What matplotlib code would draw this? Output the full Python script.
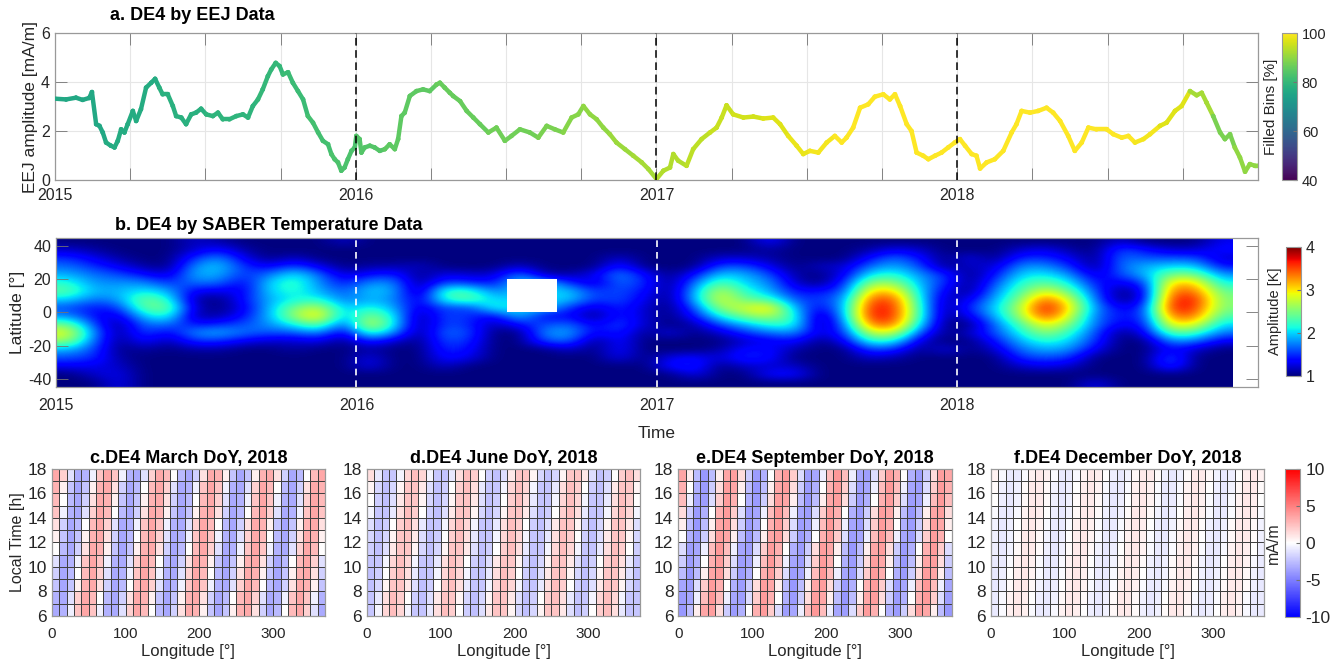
"""DE4 tide: EEJ amplitude time series, SABER temperature amplitude map and
seasonal longitude / local-time maps for 2018."""
import numpy as np
import matplotlib
matplotlib.use("Agg")
import matplotlib.pyplot as plt
from matplotlib.collections import LineCollection
from matplotlib.colors import LinearSegmentedColormap, ListedColormap, Normalize
from matplotlib.cm import ScalarMappable

plt.rcParams['font.family'] = ['Liberation Sans', 'DejaVu Sans']
plt.rcParams['axes.unicode_minus'] = False
TXT = '#262626'
plt.rcParams['text.color'] = TXT
plt.rcParams['axes.labelcolor'] = TXT
plt.rcParams['xtick.color'] = TXT
plt.rcParams['ytick.color'] = TXT
nan = float('nan')

# ── panel a: EEJ DE4 amplitude (decimal year, mA/m) ──────────────────────────
eej_time = [2015.000, 2015.037, 2015.070, 2015.092, 2015.114, 2015.123, 2015.137, 2015.148, 2015.159, 2015.170,
            2015.186, 2015.198, 2015.209, 2015.220, 2015.231, 2015.242, 2015.259, 2015.270, 2015.286, 2015.303,
            2015.320, 2015.333, 2015.347, 2015.358, 2015.375, 2015.392, 2015.403, 2015.420, 2015.436, 2015.453,
            2015.469, 2015.486, 2015.503, 2015.525, 2015.542, 2015.558, 2015.580, 2015.603, 2015.625, 2015.642,
            2015.658, 2015.675, 2015.691, 2015.708, 2015.719, 2015.734, 2015.747, 2015.758, 2015.775, 2015.791,
            2015.808, 2015.825, 2015.841, 2015.858, 2015.875, 2015.891, 2015.908, 2015.919, 2015.930, 2015.941,
            2015.952, 2015.963, 2015.974, 2015.986, 2015.997, 2016.002, 2016.013, 2016.019, 2016.030, 2016.047,
            2016.063, 2016.080, 2016.097, 2016.113, 2016.130, 2016.141, 2016.152, 2016.163, 2016.180, 2016.202,
            2016.224, 2016.246, 2016.269, 2016.280, 2016.296, 2016.313, 2016.324, 2016.347, 2016.369, 2016.391,
            2016.413, 2016.441, 2016.468, 2016.496, 2016.518, 2016.546, 2016.579, 2016.607, 2016.635, 2016.662,
            2016.690, 2016.718, 2016.740, 2016.757, 2016.779, 2016.801, 2016.823, 2016.845, 2016.867, 2016.895,
            2016.923, 2016.951, 2016.973, 2017.000, 2017.023, 2017.045, 2017.056, 2017.072, 2017.100, 2017.122,
            2017.150, 2017.178, 2017.200, 2017.217, 2017.233, 2017.255, 2017.289, 2017.322, 2017.355, 2017.388,
            2017.411, 2017.438, 2017.466, 2017.488, 2017.510, 2017.538, 2017.566, 2017.593, 2017.616, 2017.632,
            2017.654, 2017.677, 2017.704, 2017.726, 2017.754, 2017.776, 2017.793, 2017.810, 2017.832, 2017.848,
            2017.865, 2017.887, 2017.904, 2017.926, 2017.948, 2017.970, 2017.992, 2018.009, 2018.026, 2018.048,
            2018.064, 2018.076, 2018.098, 2018.125, 2018.153, 2018.181, 2018.197, 2018.214, 2018.242, 2018.269,
            2018.297, 2018.319, 2018.342, 2018.369, 2018.391, 2018.414, 2018.436, 2018.463, 2018.497, 2018.519,
            2018.547, 2018.569, 2018.591, 2018.619, 2018.641, 2018.674, 2018.696, 2018.724, 2018.746, 2018.774,
            2018.796, 2018.813, 2018.829, 2018.851, 2018.874, 2018.890, 2018.907, 2018.923, 2018.940, 2018.957,
            2018.973, 2018.990, 2018.998]
eej_amp = [3.32, 3.29, 3.36, 3.27, 3.35, 3.59, 2.28, 2.21, 1.94, 1.53,
           1.40, 1.33, 1.60, 2.07, 1.94, 2.28, 2.82, 2.41, 2.89, 3.77,
           3.97, 4.13, 3.77, 3.50, 3.50, 3.02, 2.61, 2.55, 2.28, 2.68,
           2.75, 2.91, 2.68, 2.61, 2.75, 2.48, 2.48, 2.61, 2.68, 2.55,
           3.02, 3.29, 3.70, 4.24, 4.51, 4.78, 4.65, 4.31, 4.40, 3.97,
           3.63, 3.29, 2.61, 2.34, 1.94, 1.60, 1.46, 1.06, 0.85, 0.72,
           0.38, 0.51, 0.85, 1.19, 1.33, 1.80, 1.67, 1.12, 1.33, 1.40,
           1.33, 1.19, 1.26, 1.46, 1.26, 1.67, 2.61, 2.75, 3.43, 3.63,
           3.70, 3.63, 3.90, 3.97, 3.77, 3.56, 3.43, 3.22, 2.82, 2.55,
           2.28, 1.94, 2.14, 1.60, 1.80, 2.07, 1.94, 1.73, 2.21, 2.07,
           1.94, 2.55, 2.68, 3.02, 2.68, 2.48, 2.14, 1.87, 1.53, 1.26,
           0.99, 0.72, 0.45, 0.04, 0.38, 0.51, 1.06, 0.79, 0.58, 1.26,
           1.67, 1.94, 2.14, 2.55, 3.05, 2.68, 2.55, 2.59, 2.51, 2.55,
           2.28, 1.80, 1.40, 1.06, 1.19, 1.12, 1.53, 1.80, 1.53, 1.73,
           2.14, 2.95, 3.09, 3.40, 3.50, 3.29, 3.50, 3.02, 2.28, 2.00,
           1.12, 0.99, 0.85, 0.99, 1.12, 1.33, 1.53, 1.67, 1.40, 1.06,
           0.99, 0.47, 0.72, 0.85, 1.19, 1.94, 2.28, 2.82, 2.75, 2.82,
           2.95, 2.75, 2.41, 1.80, 1.19, 1.53, 2.14, 2.07, 2.07, 1.87,
           1.73, 1.80, 1.53, 1.67, 1.87, 2.21, 2.34, 2.82, 3.02, 3.63,
           3.46, 3.56, 3.16, 2.61, 1.94, 1.67, 1.87, 1.33, 0.92, 0.34,
           0.65, 0.58, 0.58]
# filled bins [%] per month, Jan 2015 .. Dec 2018
filled_bins = [76, 76, 77, 77, 78, 78, 79, 79, 80, 81, 82, 83,
               84, 85, 85, 86, 86, 87, 87, 88, 89, 90, 91, 92,
               93, 94, 95, 96, 97, 98, 99, 100, 100, 100, 100, 100,
               100, 100, 100, 100, 100, 100, 100, 99, 97, 92, 88, 90]
year_marks = [2016, 2017, 2018]
year_labels = ['2015', '2016', '2017', '2018']

# ── panel b: SABER DE4 amplitude [K], one list per month (Jan 2015 .. Nov 2018),
#    latitude bins 42.5N .. 42.5S in 5 deg steps (nan = no data) ─────────────
saber_lat_edges = [45, -45]
saber_months = [
    [1.0, 1.2, 1.5, 1.7, 1.9, 2.2, 2.4, 2.0, 1.6, 1.8, 2.5, 2.9, 2.6, 1.9, 1.6, 1.3, 1.0, 1.0],
    [1.0, 1.1, 1.3, 1.5, 1.7, 1.8, 1.9, 1.7, 1.4, 1.4, 1.6, 1.8, 1.7, 1.6, 1.5, 1.3, 1.2, 1.0],
    [1.0, 1.0, 1.1, 1.3, 1.6, 1.8, 1.9, 1.8, 1.5, 1.2, 1.0, 1.0, 1.0, 1.0, 1.1, 1.2, 1.3, 1.3],
    [1.0, 1.0, 1.0, 1.1, 1.4, 1.8, 2.1, 2.5, 2.4, 2.0, 1.7, 1.6, 1.4, 1.1, 1.0, 1.0, 1.0, 1.0],
    [1.0, 1.0, 1.0, 1.0, 1.2, 1.5, 1.9, 2.2, 2.5, 2.2, 1.7, 1.3, 1.1, 1.0, 1.0, 1.0, 1.0, 1.0],
    [1.2, 1.2, 1.5, 1.8, 1.9, 1.7, 1.3, 1.1, 1.2, 1.1, 1.4, 1.8, 1.5, 1.1, 1.0, 1.0, 1.0, 1.0],
    [1.1, 1.4, 1.8, 2.0, 1.9, 1.7, 1.3, 1.0, 1.0, 1.1, 1.5, 1.9, 1.5, 1.1, 1.0, 1.0, 1.0, 1.0],
    [1.0, 1.1, 1.3, 1.5, 1.5, 1.3, 1.3, 1.4, 1.3, 1.4, 1.6, 1.7, 1.3, 1.0, 1.0, 1.0, 1.0, 1.0],
    [1.0, 1.0, 1.0, 1.3, 1.7, 2.0, 2.0, 1.9, 1.9, 1.9, 1.8, 1.6, 1.2, 1.0, 1.0, 1.0, 1.0, 1.0],
    [1.0, 1.0, 1.2, 1.6, 2.1, 2.3, 2.2, 2.1, 2.5, 2.6, 2.1, 1.6, 1.2, 1.1, 1.0, 1.0, 1.0, 1.0],
    [1.0, 1.0, 1.0, 1.3, 1.7, 1.8, 1.9, 2.2, 2.8, 3.1, 2.5, 1.8, 1.3, 1.0, 1.0, 1.0, 1.0, 1.0],
    [1.2, 1.0, 1.0, 1.0, 1.2, 1.4, 1.6, 1.7, 1.9, 1.8, 1.5, 1.2, 1.0, 1.0, 1.0, 1.0, 1.0, 1.0],
    [1.0, 1.0, 1.0, 1.1, 1.4, 1.8, 2.0, 1.9, 2.2, 2.6, 2.9, 2.3, 1.5, 1.1, 1.3, 1.3, 1.0, 1.0],
    [1.0, 1.0, 1.0, 1.1, 1.5, 1.8, 1.9, 1.8, 1.9, 2.1, 2.1, 1.8, 1.2, 1.0, 1.0, 1.0, 1.0, 1.0],
    [1.0, 1.0, 1.0, 1.2, 1.0, 1.0, 1.0, 1.2, 1.2, 1.0, 1.0, 1.0, 1.0, 1.0, 1.0, 1.0, 1.0, 1.0],
    [1.0, 1.0, 1.0, 1.0, 1.3, 1.6, 2.3, 2.2, 1.6, 1.6, 1.6, 1.7, 1.6, 1.5, 1.4, 1.2, 1.0, 1.0],
    [1.0, 1.0, 1.0, 1.0, 1.2, 1.5, 2.3, 2.4, 1.5, 1.5, 1.5, 1.6, 1.5, 1.4, 1.3, 1.0, 1.0, 1.0],
    [1.0, 1.0, 1.0, 1.0, 1.2, 1.4, 1.7, 2.0, 2.2, 1.3, 1.1, 1.0, 1.0, 1.0, 1.0, 1.0, 1.0, 1.0],
    [1.0, 1.0, 1.0, 1.2, 1.8, nan, nan, nan, nan, 2.0, 1.4, 1.0, 1.0, 1.0, 1.0, 1.0, 1.0, 1.0],
    [1.0, 1.0, 1.0, 1.0, 1.1, nan, nan, nan, nan, 1.3, 1.6, 1.8, 1.6, 1.0, 1.0, 1.0, 1.0, 1.0],
    [1.0, 1.0, 1.0, 1.0, 1.1, 1.5, 2.0, 2.0, 1.5, 1.4, 1.7, 1.9, 1.7, 1.2, 1.0, 1.0, 1.0, 1.0],
    [1.0, 1.0, 1.0, 1.0, 1.3, 1.2, 1.5, 1.5, 1.2, 1.0, 1.3, 1.3, 1.0, 1.0, 1.0, 1.0, 1.0, 1.0],
    [1.0, 1.0, 1.2, 1.5, 1.8, 1.7, 1.6, 1.6, 1.5, 1.5, 1.6, 1.5, 1.4, 1.4, 1.3, 1.0, 1.0, 1.0],
    [1.0, 1.0, 1.0, 1.0, 1.4, 1.5, 1.4, 1.3, 1.2, 1.2, 1.2, 1.0, 1.0, 1.0, 1.0, 1.0, 1.0, 1.0],
    [1.0, 1.0, 1.0, 1.0, 1.0, 1.0, 1.0, 1.0, 1.0, 1.0, 1.0, 1.3, 1.0, 1.0, 1.3, 1.4, 1.0, 1.0],
    [1.0, 1.0, 1.0, 1.0, 1.4, 1.7, 1.9, 1.9, 1.6, 1.4, 1.1, 1.0, 1.0, 1.0, 1.4, 1.5, 1.3, 1.0],
    [1.0, 1.0, 1.2, 1.6, 2.0, 2.4, 2.8, 2.9, 2.6, 2.1, 1.6, 1.2, 1.0, 1.1, 1.2, 1.0, 1.0, 1.0],
    [1.0, 1.0, 1.2, 1.6, 1.9, 2.0, 2.2, 2.4, 2.8, 2.5, 1.9, 1.5, 1.2, 1.4, 1.5, 1.2, 1.0, 1.0],
    [1.4, 1.1, 1.1, 1.3, 1.6, 1.8, 1.9, 2.3, 3.1, 2.7, 2.2, 1.7, 1.3, 1.4, 1.4, 1.2, 1.4, 1.0],
    [1.0, 1.0, 1.0, 1.0, 1.1, 1.2, 1.4, 1.6, 1.9, 2.2, 2.2, 1.8, 1.4, 1.1, 1.0, 1.2, 1.4, 1.0],
    [1.0, 1.0, 1.0, 1.2, 1.0, 1.0, 1.4, 1.5, 1.3, 1.0, 1.0, 1.2, 1.0, 1.0, 1.0, 1.0, 1.0, 1.0],
    [1.0, 1.0, 1.0, 1.2, 1.3, 1.5, 1.6, 1.8, 1.9, 1.9, 1.7, 1.5, 1.3, 1.0, 1.0, 1.0, 1.0, 1.0],
    [1.0, 1.1, 1.4, 1.7, 2.1, 2.6, 3.1, 3.5, 3.7, 3.7, 3.4, 2.8, 2.2, 1.6, 1.2, 1.0, 1.0, 1.0],
    [1.0, 1.3, 1.7, 1.9, 2.2, 2.6, 3.1, 3.5, 3.6, 3.6, 3.4, 2.8, 2.1, 1.5, 1.1, 1.0, 1.0, 1.0],
    [1.0, 1.2, 1.4, 1.6, 1.8, 1.9, 2.0, 2.1, 2.2, 2.2, 2.0, 1.6, 1.2, 1.0, 1.0, 1.0, 1.0, 1.0],
    [1.0, 1.0, 1.0, 1.0, 1.5, 1.5, 1.3, 1.1, 1.0, 1.0, 1.0, 1.0, 1.0, 1.3, 1.0, 1.0, 1.0, 1.0],
    [1.0, 1.0, 1.3, 1.2, 1.0, 1.0, 1.0, 1.3, 1.5, 1.3, 1.0, 1.2, 1.0, 1.0, 1.0, 1.0, 1.0, 1.0],
    [1.0, 1.0, 1.0, 1.2, 1.4, 1.6, 1.8, 1.9, 2.0, 1.9, 1.7, 1.6, 1.4, 1.2, 1.0, 1.0, 1.0, 1.0],
    [1.0, 1.2, 1.5, 1.8, 2.0, 2.2, 2.3, 2.5, 2.7, 2.6, 2.3, 2.1, 1.9, 1.7, 1.5, 1.2, 1.0, 1.0],
    [1.0, 1.3, 1.5, 1.8, 2.1, 2.4, 2.9, 3.5, 3.8, 3.6, 3.0, 2.6, 2.2, 1.9, 1.6, 1.3, 1.0, 1.0],
    [1.0, 1.1, 1.3, 1.5, 1.8, 2.1, 2.4, 2.8, 3.0, 2.8, 2.5, 2.2, 2.0, 1.8, 1.5, 1.2, 1.0, 1.0],
    [1.0, 1.0, 1.0, 1.0, 1.2, 1.4, 1.6, 1.7, 1.8, 1.7, 1.7, 1.6, 1.5, 1.3, 1.0, 1.0, 1.0, 1.3],
    [1.2, 1.6, 1.7, 1.7, 1.6, 1.3, 1.0, 1.0, 1.3, 1.4, 1.3, 1.0, 1.0, 1.0, 1.0, 1.0, 1.0, 1.0],
    [1.0, 1.4, 1.6, 1.9, 1.9, 1.5, 1.3, 1.3, 1.5, 1.5, 1.4, 1.3, 1.0, 1.0, 1.0, 1.0, 1.0, 1.0],
    [1.0, 1.2, 1.6, 2.0, 2.5, 3.1, 3.4, 3.6, 3.7, 3.4, 3.0, 2.4, 1.8, 1.4, 1.7, 1.6, 1.0, 1.0],
    [1.0, 1.2, 1.6, 2.0, 2.5, 3.1, 3.4, 3.7, 3.6, 3.4, 2.9, 2.3, 1.7, 1.2, 1.0, 1.0, 1.0, 1.0],
    [1.3, 1.4, 1.2, 1.4, 1.8, 2.1, 2.4, 2.5, 2.5, 2.3, 2.0, 1.7, 1.3, 1.0, 1.0, 1.0, 1.0, 1.0],
]

# ── panels c-f: DE4 EEJ [mA/m] on 10 deg longitude x 1 h local-time cells ────
lon_edges = list(range(0, 371, 10))
lt_edges = list(range(6, 19))
de4_march = [
    [-3.3, -3.0, -0.6, 2.3, 3.5, 2.3, -0.6, -3.0, -3.3, -1.2, 1.8, 3.4, 2.7, 0, -2.7, -3.4, -1.8, 1.2, 3.3, 3.0, 0.6, -2.3, -3.5, -2.3, 0.6, 3.0, 3.3, 1.2, -1.8, -3.4, -2.7, 0, 2.7, 3.4, 1.8, -1.2, -3.3],
    [-3.0, -3.3, -1.2, 1.8, 3.4, 2.7, 0, -2.7, -3.4, -1.8, 1.2, 3.3, 3.0, 0.6, -2.3, -3.5, -2.3, 0.6, 3.0, 3.3, 1.2, -1.8, -3.4, -2.7, 0, 2.7, 3.4, 1.8, -1.2, -3.3, -3.0, -0.6, 2.3, 3.5, 2.3, -0.6, -3.0],
    [-2.3, -3.5, -2.3, 0.6, 3.0, 3.3, 1.2, -1.8, -3.4, -2.7, 0, 2.7, 3.4, 1.8, -1.2, -3.3, -3.0, -0.6, 2.3, 3.5, 2.3, -0.6, -3.0, -3.3, -1.2, 1.8, 3.4, 2.7, 0, -2.7, -3.4, -1.8, 1.2, 3.3, 3.0, 0.6, -2.3],
    [-1.8, -3.4, -2.7, 0, 2.7, 3.4, 1.8, -1.2, -3.3, -3.0, -0.6, 2.3, 3.5, 2.3, -0.6, -3.0, -3.3, -1.2, 1.8, 3.4, 2.7, 0, -2.7, -3.4, -1.8, 1.2, 3.3, 3.0, 0.6, -2.3, -3.5, -2.3, 0.6, 3.0, 3.3, 1.2, -1.8],
    [-1.2, -3.3, -3.0, -0.6, 2.3, 3.5, 2.3, -0.6, -3.0, -3.3, -1.2, 1.8, 3.4, 2.7, 0, -2.7, -3.4, -1.8, 1.2, 3.3, 3.0, 0.6, -2.3, -3.5, -2.3, 0.6, 3.0, 3.3, 1.2, -1.8, -3.4, -2.7, 0, 2.7, 3.4, 1.8, -1.2],
    [0, -2.7, -3.4, -1.8, 1.2, 3.3, 3.0, 0.6, -2.3, -3.5, -2.3, 0.6, 3.0, 3.3, 1.2, -1.8, -3.4, -2.7, 0, 2.7, 3.4, 1.8, -1.2, -3.3, -3.0, -0.6, 2.3, 3.5, 2.3, -0.6, -3.0, -3.3, -1.2, 1.8, 3.4, 2.7, 0],
    [0.6, -2.3, -3.5, -2.3, 0.6, 3.0, 3.3, 1.2, -1.8, -3.4, -2.7, 0, 2.7, 3.4, 1.8, -1.2, -3.3, -3.0, -0.6, 2.3, 3.5, 2.3, -0.6, -3.0, -3.3, -1.2, 1.8, 3.4, 2.7, 0, -2.7, -3.4, -1.8, 1.2, 3.3, 3.0, 0.6],
    [1.2, -1.8, -3.4, -2.7, 0, 2.7, 3.4, 1.8, -1.2, -3.3, -3.0, -0.6, 2.3, 3.5, 2.3, -0.6, -3.0, -3.3, -1.2, 1.8, 3.4, 2.7, 0, -2.7, -3.4, -1.8, 1.2, 3.3, 3.0, 0.6, -2.3, -3.5, -2.3, 0.6, 3.0, 3.3, 1.2],
    [2.3, -0.6, -3.0, -3.3, -1.2, 1.8, 3.4, 2.7, 0, -2.7, -3.4, -1.8, 1.2, 3.3, 3.0, 0.6, -2.3, -3.5, -2.3, 0.6, 3.0, 3.3, 1.2, -1.8, -3.4, -2.7, 0, 2.7, 3.4, 1.8, -1.2, -3.3, -3.0, -0.6, 2.3, 3.5, 2.3],
    [2.7, 0, -2.7, -3.4, -1.8, 1.2, 3.3, 3.0, 0.6, -2.3, -3.5, -2.3, 0.6, 3.0, 3.3, 1.2, -1.8, -3.4, -2.7, 0, 2.7, 3.4, 1.8, -1.2, -3.3, -3.0, -0.6, 2.3, 3.5, 2.3, -0.6, -3.0, -3.3, -1.2, 1.8, 3.4, 2.7],
    [3.0, 0.6, -2.3, -3.5, -2.3, 0.6, 3.0, 3.3, 1.2, -1.8, -3.4, -2.7, 0, 2.7, 3.4, 1.8, -1.2, -3.3, -3.0, -0.6, 2.3, 3.5, 2.3, -0.6, -3.0, -3.3, -1.2, 1.8, 3.4, 2.7, 0, -2.7, -3.4, -1.8, 1.2, 3.3, 3.0],
    [3.4, 1.8, -1.2, -3.3, -3.0, -0.6, 2.3, 3.5, 2.3, -0.6, -3.0, -3.3, -1.2, 1.8, 3.4, 2.7, 0, -2.7, -3.4, -1.8, 1.2, 3.3, 3.0, 0.6, -2.3, -3.5, -2.3, 0.6, 3.0, 3.3, 1.2, -1.8, -3.4, -2.7, 0, 2.7, 3.4],
]
de4_june = [
    [-2.2, -0.4, 1.6, 2.5, 1.6, -0.4, -2.2, -2.3, -0.9, 1.3, 2.5, 1.9, 0, -1.9, -2.5, -1.3, 0.9, 2.3, 2.2, 0.4, -1.6, -2.5, -1.6, 0.4, 2.2, 2.3, 0.9, -1.3, -2.5, -1.9, 0, 1.9, 2.5, 1.3, -0.9, -2.3, -2.2],
    [-2.3, -0.9, 1.3, 2.5, 1.9, 0, -1.9, -2.5, -1.3, 0.9, 2.3, 2.2, 0.4, -1.6, -2.5, -1.6, 0.4, 2.2, 2.3, 0.9, -1.3, -2.5, -1.9, 0, 1.9, 2.5, 1.3, -0.9, -2.3, -2.2, -0.4, 1.6, 2.5, 1.6, -0.4, -2.2, -2.3],
    [-2.5, -1.6, 0.4, 2.2, 2.3, 0.9, -1.3, -2.5, -1.9, 0, 1.9, 2.5, 1.3, -0.9, -2.3, -2.2, -0.4, 1.6, 2.5, 1.6, -0.4, -2.2, -2.3, -0.9, 1.3, 2.5, 1.9, 0, -1.9, -2.5, -1.3, 0.9, 2.3, 2.2, 0.4, -1.6, -2.5],
    [-2.5, -1.9, 0, 1.9, 2.5, 1.3, -0.9, -2.3, -2.2, -0.4, 1.6, 2.5, 1.6, -0.4, -2.2, -2.3, -0.9, 1.3, 2.5, 1.9, 0, -1.9, -2.5, -1.3, 0.9, 2.3, 2.2, 0.4, -1.6, -2.5, -1.6, 0.4, 2.2, 2.3, 0.9, -1.3, -2.5],
    [-2.3, -2.2, -0.4, 1.6, 2.5, 1.6, -0.4, -2.2, -2.3, -0.9, 1.3, 2.5, 1.9, 0, -1.9, -2.5, -1.3, 0.9, 2.3, 2.2, 0.4, -1.6, -2.5, -1.6, 0.4, 2.2, 2.3, 0.9, -1.3, -2.5, -1.9, 0, 1.9, 2.5, 1.3, -0.9, -2.3],
    [-1.9, -2.5, -1.3, 0.9, 2.3, 2.2, 0.4, -1.6, -2.5, -1.6, 0.4, 2.2, 2.3, 0.9, -1.3, -2.5, -1.9, 0, 1.9, 2.5, 1.3, -0.9, -2.3, -2.2, -0.4, 1.6, 2.5, 1.6, -0.4, -2.2, -2.3, -0.9, 1.3, 2.5, 1.9, 0, -1.9],
    [-1.6, -2.5, -1.6, 0.4, 2.2, 2.3, 0.9, -1.3, -2.5, -1.9, 0, 1.9, 2.5, 1.3, -0.9, -2.3, -2.2, -0.4, 1.6, 2.5, 1.6, -0.4, -2.2, -2.3, -0.9, 1.3, 2.5, 1.9, 0, -1.9, -2.5, -1.3, 0.9, 2.3, 2.2, 0.4, -1.6],
    [-1.3, -2.5, -1.9, 0, 1.9, 2.5, 1.3, -0.9, -2.3, -2.2, -0.4, 1.6, 2.5, 1.6, -0.4, -2.2, -2.3, -0.9, 1.3, 2.5, 1.9, 0, -1.9, -2.5, -1.3, 0.9, 2.3, 2.2, 0.4, -1.6, -2.5, -1.6, 0.4, 2.2, 2.3, 0.9, -1.3],
    [-0.4, -2.2, -2.3, -0.9, 1.3, 2.5, 1.9, 0, -1.9, -2.5, -1.3, 0.9, 2.3, 2.2, 0.4, -1.6, -2.5, -1.6, 0.4, 2.2, 2.3, 0.9, -1.3, -2.5, -1.9, 0, 1.9, 2.5, 1.3, -0.9, -2.3, -2.2, -0.4, 1.6, 2.5, 1.6, -0.4],
    [0, -1.9, -2.5, -1.3, 0.9, 2.3, 2.2, 0.4, -1.6, -2.5, -1.6, 0.4, 2.2, 2.3, 0.9, -1.3, -2.5, -1.9, 0, 1.9, 2.5, 1.3, -0.9, -2.3, -2.2, -0.4, 1.6, 2.5, 1.6, -0.4, -2.2, -2.3, -0.9, 1.3, 2.5, 1.9, 0],
    [0.4, -1.6, -2.5, -1.6, 0.4, 2.2, 2.3, 0.9, -1.3, -2.5, -1.9, 0, 1.9, 2.5, 1.3, -0.9, -2.3, -2.2, -0.4, 1.6, 2.5, 1.6, -0.4, -2.2, -2.3, -0.9, 1.3, 2.5, 1.9, 0, -1.9, -2.5, -1.3, 0.9, 2.3, 2.2, 0.4],
    [1.3, -0.9, -2.3, -2.2, -0.4, 1.6, 2.5, 1.6, -0.4, -2.2, -2.3, -0.9, 1.3, 2.5, 1.9, 0, -1.9, -2.5, -1.3, 0.9, 2.3, 2.2, 0.4, -1.6, -2.5, -1.6, 0.4, 2.2, 2.3, 0.9, -1.3, -2.5, -1.9, 0, 1.9, 2.5, 1.3],
]
de4_september = [
    [-4.0, -2.6, 0.7, 3.5, 3.8, 1.4, -2.0, -3.9, -3.1, 0, 3.1, 3.9, 2.0, -1.4, -3.8, -3.5, -0.7, 2.6, 4.0, 2.6, -0.7, -3.5, -3.8, -1.4, 2.0, 3.9, 3.1, 0, -3.1, -3.9, -2.0, 1.4, 3.8, 3.5, 0.7, -2.6, -4.0],
    [-3.8, -3.5, -0.7, 2.6, 4.0, 2.6, -0.7, -3.5, -3.8, -1.4, 2.0, 3.9, 3.1, 0, -3.1, -3.9, -2.0, 1.4, 3.8, 3.5, 0.7, -2.6, -4.0, -2.6, 0.7, 3.5, 3.8, 1.4, -2.0, -3.9, -3.1, 0, 3.1, 3.9, 2.0, -1.4, -3.8],
    [-3.5, -3.8, -1.4, 2.0, 3.9, 3.1, 0, -3.1, -3.9, -2.0, 1.4, 3.8, 3.5, 0.7, -2.6, -4.0, -2.6, 0.7, 3.5, 3.8, 1.4, -2.0, -3.9, -3.1, 0, 3.1, 3.9, 2.0, -1.4, -3.8, -3.5, -0.7, 2.6, 4.0, 2.6, -0.7, -3.5],
    [-2.6, -4.0, -2.6, 0.7, 3.5, 3.8, 1.4, -2.0, -3.9, -3.1, 0, 3.1, 3.9, 2.0, -1.4, -3.8, -3.5, -0.7, 2.6, 4.0, 2.6, -0.7, -3.5, -3.8, -1.4, 2.0, 3.9, 3.1, 0, -3.1, -3.9, -2.0, 1.4, 3.8, 3.5, 0.7, -2.6],
    [-2.0, -3.9, -3.1, 0, 3.1, 3.9, 2.0, -1.4, -3.8, -3.5, -0.7, 2.6, 4.0, 2.6, -0.7, -3.5, -3.8, -1.4, 2.0, 3.9, 3.1, 0, -3.1, -3.9, -2.0, 1.4, 3.8, 3.5, 0.7, -2.6, -4.0, -2.6, 0.7, 3.5, 3.8, 1.4, -2.0],
    [-1.4, -3.8, -3.5, -0.7, 2.6, 4.0, 2.6, -0.7, -3.5, -3.8, -1.4, 2.0, 3.9, 3.1, 0, -3.1, -3.9, -2.0, 1.4, 3.8, 3.5, 0.7, -2.6, -4.0, -2.6, 0.7, 3.5, 3.8, 1.4, -2.0, -3.9, -3.1, 0, 3.1, 3.9, 2.0, -1.4],
    [0, -3.1, -3.9, -2.0, 1.4, 3.8, 3.5, 0.7, -2.6, -4.0, -2.6, 0.7, 3.5, 3.8, 1.4, -2.0, -3.9, -3.1, 0, 3.1, 3.9, 2.0, -1.4, -3.8, -3.5, -0.7, 2.6, 4.0, 2.6, -0.7, -3.5, -3.8, -1.4, 2.0, 3.9, 3.1, 0],
    [0.7, -2.6, -4.0, -2.6, 0.7, 3.5, 3.8, 1.4, -2.0, -3.9, -3.1, 0, 3.1, 3.9, 2.0, -1.4, -3.8, -3.5, -0.7, 2.6, 4.0, 2.6, -0.7, -3.5, -3.8, -1.4, 2.0, 3.9, 3.1, 0, -3.1, -3.9, -2.0, 1.4, 3.8, 3.5, 0.7],
    [1.4, -2.0, -3.9, -3.1, 0, 3.1, 3.9, 2.0, -1.4, -3.8, -3.5, -0.7, 2.6, 4.0, 2.6, -0.7, -3.5, -3.8, -1.4, 2.0, 3.9, 3.1, 0, -3.1, -3.9, -2.0, 1.4, 3.8, 3.5, 0.7, -2.6, -4.0, -2.6, 0.7, 3.5, 3.8, 1.4],
    [2.6, -0.7, -3.5, -3.8, -1.4, 2.0, 3.9, 3.1, 0, -3.1, -3.9, -2.0, 1.4, 3.8, 3.5, 0.7, -2.6, -4.0, -2.6, 0.7, 3.5, 3.8, 1.4, -2.0, -3.9, -3.1, 0, 3.1, 3.9, 2.0, -1.4, -3.8, -3.5, -0.7, 2.6, 4.0, 2.6],
    [3.1, 0, -3.1, -3.9, -2.0, 1.4, 3.8, 3.5, 0.7, -2.6, -4.0, -2.6, 0.7, 3.5, 3.8, 1.4, -2.0, -3.9, -3.1, 0, 3.1, 3.9, 2.0, -1.4, -3.8, -3.5, -0.7, 2.6, 4.0, 2.6, -0.7, -3.5, -3.8, -1.4, 2.0, 3.9, 3.1],
    [3.5, 0.7, -2.6, -4.0, -2.6, 0.7, 3.5, 3.8, 1.4, -2.0, -3.9, -3.1, 0, 3.1, 3.9, 2.0, -1.4, -3.8, -3.5, -0.7, 2.6, 4.0, 2.6, -0.7, -3.5, -3.8, -1.4, 2.0, 3.9, 3.1, 0, -3.1, -3.9, -2.0, 1.4, 3.8, 3.5],
]
de4_december = [
    [-0.8, -0.2, 0.6, 0.9, 0.6, -0.2, -0.8, -0.8, -0.3, 0.5, 0.9, 0.7, 0, -0.7, -0.9, -0.5, 0.3, 0.8, 0.8, 0.2, -0.6, -0.9, -0.6, 0.2, 0.8, 0.8, 0.3, -0.5, -0.9, -0.7, 0, 0.7, 0.9, 0.5, -0.3, -0.8, -0.8],
    [-0.8, -0.3, 0.5, 0.9, 0.7, 0, -0.7, -0.9, -0.5, 0.3, 0.8, 0.8, 0.2, -0.6, -0.9, -0.6, 0.2, 0.8, 0.8, 0.3, -0.5, -0.9, -0.7, 0, 0.7, 0.9, 0.5, -0.3, -0.8, -0.8, -0.2, 0.6, 0.9, 0.6, -0.2, -0.8, -0.8],
    [-0.9, -0.6, 0.2, 0.8, 0.8, 0.3, -0.5, -0.9, -0.7, 0, 0.7, 0.9, 0.5, -0.3, -0.8, -0.8, -0.2, 0.6, 0.9, 0.6, -0.2, -0.8, -0.8, -0.3, 0.5, 0.9, 0.7, 0, -0.7, -0.9, -0.5, 0.3, 0.8, 0.8, 0.2, -0.6, -0.9],
    [-0.9, -0.7, 0, 0.7, 0.9, 0.5, -0.3, -0.8, -0.8, -0.2, 0.6, 0.9, 0.6, -0.2, -0.8, -0.8, -0.3, 0.5, 0.9, 0.7, 0, -0.7, -0.9, -0.5, 0.3, 0.8, 0.8, 0.2, -0.6, -0.9, -0.6, 0.2, 0.8, 0.8, 0.3, -0.5, -0.9],
    [-0.8, -0.8, -0.2, 0.6, 0.9, 0.6, -0.2, -0.8, -0.8, -0.3, 0.5, 0.9, 0.7, 0, -0.7, -0.9, -0.5, 0.3, 0.8, 0.8, 0.2, -0.6, -0.9, -0.6, 0.2, 0.8, 0.8, 0.3, -0.5, -0.9, -0.7, 0, 0.7, 0.9, 0.5, -0.3, -0.8],
    [-0.7, -0.9, -0.5, 0.3, 0.8, 0.8, 0.2, -0.6, -0.9, -0.6, 0.2, 0.8, 0.8, 0.3, -0.5, -0.9, -0.7, 0, 0.7, 0.9, 0.5, -0.3, -0.8, -0.8, -0.2, 0.6, 0.9, 0.6, -0.2, -0.8, -0.8, -0.3, 0.5, 0.9, 0.7, 0, -0.7],
    [-0.6, -0.9, -0.6, 0.2, 0.8, 0.8, 0.3, -0.5, -0.9, -0.7, 0, 0.7, 0.9, 0.5, -0.3, -0.8, -0.8, -0.2, 0.6, 0.9, 0.6, -0.2, -0.8, -0.8, -0.3, 0.5, 0.9, 0.7, 0, -0.7, -0.9, -0.5, 0.3, 0.8, 0.8, 0.2, -0.6],
    [-0.5, -0.9, -0.7, 0, 0.7, 0.9, 0.5, -0.3, -0.8, -0.8, -0.2, 0.6, 0.9, 0.6, -0.2, -0.8, -0.8, -0.3, 0.5, 0.9, 0.7, 0, -0.7, -0.9, -0.5, 0.3, 0.8, 0.8, 0.2, -0.6, -0.9, -0.6, 0.2, 0.8, 0.8, 0.3, -0.5],
    [-0.2, -0.8, -0.8, -0.3, 0.5, 0.9, 0.7, 0, -0.7, -0.9, -0.5, 0.3, 0.8, 0.8, 0.2, -0.6, -0.9, -0.6, 0.2, 0.8, 0.8, 0.3, -0.5, -0.9, -0.7, 0, 0.7, 0.9, 0.5, -0.3, -0.8, -0.8, -0.2, 0.6, 0.9, 0.6, -0.2],
    [0, -0.7, -0.9, -0.5, 0.3, 0.8, 0.8, 0.2, -0.6, -0.9, -0.6, 0.2, 0.8, 0.8, 0.3, -0.5, -0.9, -0.7, 0, 0.7, 0.9, 0.5, -0.3, -0.8, -0.8, -0.2, 0.6, 0.9, 0.6, -0.2, -0.8, -0.8, -0.3, 0.5, 0.9, 0.7, 0],
    [0.2, -0.6, -0.9, -0.6, 0.2, 0.8, 0.8, 0.3, -0.5, -0.9, -0.7, 0, 0.7, 0.9, 0.5, -0.3, -0.8, -0.8, -0.2, 0.6, 0.9, 0.6, -0.2, -0.8, -0.8, -0.3, 0.5, 0.9, 0.7, 0, -0.7, -0.9, -0.5, 0.3, 0.8, 0.8, 0.2],
    [0.5, -0.3, -0.8, -0.8, -0.2, 0.6, 0.9, 0.6, -0.2, -0.8, -0.8, -0.3, 0.5, 0.9, 0.7, 0, -0.7, -0.9, -0.5, 0.3, 0.8, 0.8, 0.2, -0.6, -0.9, -0.6, 0.2, 0.8, 0.8, 0.3, -0.5, -0.9, -0.7, 0, 0.7, 0.9, 0.5],
]
season_titles = ['c.DE4 March DoY, 2018', 'd.DE4 June DoY, 2018',
                 'e.DE4 September DoY, 2018', 'f.DE4 December DoY, 2018']

SPINE = '0.6'
fig = plt.figure(figsize=(13.4, 6.67), dpi=100)


def style_spines(ax):
    for s in ax.spines.values():
        s.set_color(SPINE)
        s.set_linewidth(0.9)


# ── a. DE4 by EEJ data ───────────────────────────────────────────────────────
ax_a = fig.add_axes([0.0410, 0.7301, 0.8978, 0.2204])
t = np.array(eej_time)
amp = np.array(eej_amp)
month_idx = np.clip(((t - 2015) * 12).astype(int), 0, len(filled_bins) - 1)
fb = np.array(filled_bins, dtype=float)[month_idx]
norm_fb = Normalize(40, 100)
pts = np.column_stack([t, amp]).reshape(-1, 1, 2)
segs = np.concatenate([pts[:-1], pts[1:]], axis=1)
lc = LineCollection(segs, cmap='viridis', norm=norm_fb, linewidths=3.2, capstyle='round')
lc.set_array(fb[:-1])
ax_a.add_collection(lc)
ax_a.scatter(t, amp, c=fb, cmap='viridis', norm=norm_fb, s=11, linewidths=0, zorder=3)
for yr in year_marks:
    ax_a.axvline(yr, color='k', ls=(0, (5, 3)), lw=1.1, zorder=4)
quarters = [2015 + 0.25 * k for k in range(17)]
ax_a.set_xticks(quarters)
ax_a.set_xticklabels([year_labels[k // 4] if k % 4 == 0 and k < 16 else '' for k in range(17)])
ax_a.set_xlim(2015, 2019)
ax_a.set_ylim(0, 6)
ax_a.set_yticks([0, 2, 4, 6])
ax_a.grid(True, color='0.9', lw=0.8)
ax_a.set_axisbelow(True)
ax_a.tick_params(direction='in', top=True, right=True, length=8.5, width=0.6,
                 labelsize=11.5, color='0.45')
ax_a.tick_params(axis='x', pad=6)
ax_a.set_ylabel('EEJ amplitude [mA/m]', fontsize=12.5)
ax_a.yaxis.set_label_coords(-0.014, 0.5)
style_spines(ax_a)
fig.text(110 / 1340, 1 - 16 / 667, 'a. DE4 by EEJ Data', fontsize=13,
         fontweight='bold', color='k', va='center', ha='left')

cax_a = fig.add_axes([0.9567, 0.7301, 0.0112, 0.2204])
cb_a = fig.colorbar(ScalarMappable(norm=norm_fb, cmap='viridis'), cax=cax_a)
cb_a.set_ticks([40, 60, 80, 100])
cb_a.outline.set_edgecolor(SPINE)
cax_a.tick_params(direction='in', length=3, labelsize=10.5, color='0.45')
cb_a.set_label('Filled Bins [%]', fontsize=11, labelpad=3)
cax_a.yaxis.set_label_position('left')

# ── b. DE4 by SABER temperature data ─────────────────────────────────────────
ax_b = fig.add_axes([0.0418, 0.4198, 0.8968, 0.2234])
Z = np.array(saber_months, dtype=float).T
gap = np.isnan(Z)
extent_b = [2015, 2015 + len(saber_months) / 12, saber_lat_edges[1], saber_lat_edges[0]]
# smooth field; the no-data cells are covered by the white gap layer below
ax_b.imshow(np.where(gap, 2.0, Z), extent=extent_b, origin='upper', aspect='auto',
            cmap='jet', vmin=1, vmax=4, interpolation='bicubic')
ax_b.imshow(np.ma.masked_where(~gap, np.ones_like(Z)), extent=extent_b, origin='upper',
            aspect='auto', cmap=ListedColormap(['white']), interpolation='nearest')
for yr in year_marks:
    ax_b.axvline(yr, color='w', ls=(0, (4, 3)), lw=1.2)
ax_b.set_xlim(2015, 2019)
ax_b.set_ylim(-45, 45)
ax_b.set_xticks([2015, 2016, 2017, 2018])
ax_b.set_xticklabels(year_labels)
ax_b.set_yticks([-40, -20, 0, 20, 40])
ax_b.tick_params(direction='in', right=True, length=8.5, width=0.6, labelsize=11.5, color='0.45')
ax_b.tick_params(axis='x', length=0, pad=8)
ax_b.set_ylabel('Latitude [°]', fontsize=12.5)
ax_b.yaxis.set_label_coords(-0.026, 0.5)
ax_b.set_xlabel('Time', fontsize=12.5, labelpad=9)
style_spines(ax_b)
fig.text(115 / 1340, 1 - 226 / 667, 'b. DE4 by SABER Temperature Data', fontsize=13,
         fontweight='bold', color='k', va='center', ha='left')

cax_b = fig.add_axes([0.9597, 0.4363, 0.0112, 0.1934])
cb_b = fig.colorbar(ScalarMappable(norm=Normalize(1, 4), cmap='jet'), cax=cax_b)
cb_b.set_ticks([1, 2, 3, 4])
cb_b.outline.set_edgecolor(SPINE)
cax_b.tick_params(direction='in', length=3, labelsize=11.5, color='0.45')
cb_b.set_label('Amplitude [K]', fontsize=10.5, labelpad=3)
cax_b.yaxis.set_label_position('left')

# ── c-f. seasonal longitude / local time maps ────────────────────────────────
bwr = LinearSegmentedColormap.from_list('bwr_matlab', [(0, 0, 1), (1, 1, 1), (1, 0, 0)])
norm_de4 = Normalize(-10, 10)
lefts = [0.0386, 0.2737, 0.5062, 0.7396]
panels = [de4_march, de4_june, de4_september, de4_december]
for i, (left, vals, title) in enumerate(zip(lefts, panels, season_titles)):
    ax = fig.add_axes([left, 0.0765, 0.2040, 0.2204])
    ax.pcolormesh(lon_edges, lt_edges, np.array(vals), cmap=bwr, norm=norm_de4,
                  edgecolors='0.25', linewidth=0.6)
    ax.set_xlim(lon_edges[0], lon_edges[-1])
    ax.set_ylim(lt_edges[0], lt_edges[-1])
    ax.set_xticks([0, 100, 200, 300])
    ax.set_yticks(list(range(6, 19, 2)))
    ax.tick_params(direction='in', length=0)
    ax.tick_params(axis='x', labelsize=11, pad=8)
    ax.tick_params(axis='y', labelsize=12.5)
    ax.set_xlabel('Longitude [°]', fontsize=12, labelpad=2)
    ax.set_title(title, fontsize=13, fontweight='bold', color='k', pad=4)
    if i == 0:
        ax.set_ylabel('Local Time [h]', fontsize=11.5)
        ax.yaxis.set_label_coords(-0.098, 0.5)
    style_spines(ax)

cax_c = fig.add_axes([0.9590, 0.0754, 0.0115, 0.2214])
cb_c = fig.colorbar(ScalarMappable(norm=norm_de4, cmap=bwr), cax=cax_c)
cb_c.set_ticks([-10, -5, 0, 5, 10])
cb_c.outline.set_edgecolor(SPINE)
cax_c.tick_params(direction='in', length=3, labelsize=12.5, color='0.45')
cb_c.set_label('mA/m', fontsize=11.5, labelpad=3)
cax_c.yaxis.set_label_position('left')

fig.savefig('out.png', dpi=100)
